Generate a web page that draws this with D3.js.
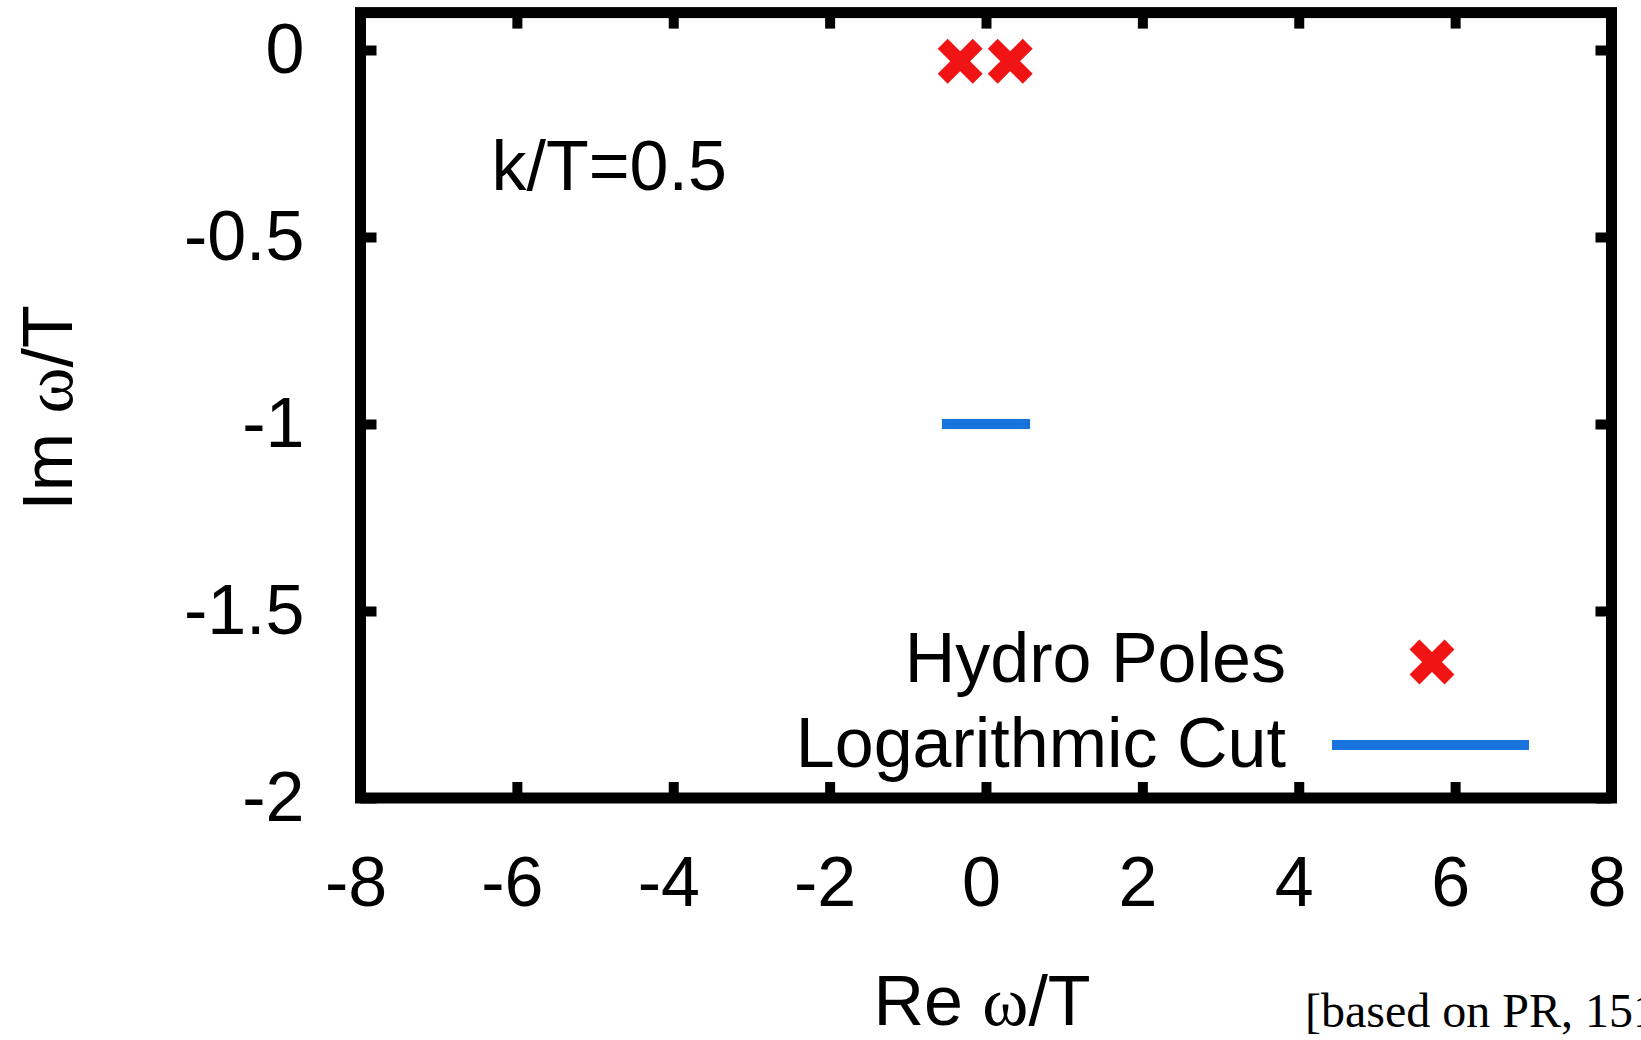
<!DOCTYPE html>
<html>
<head>
<meta charset="utf-8">
<script src="https://cdn.jsdelivr.net/npm/d3@7"></script>
<style>
  body { margin: 0; background: #fff; }
  svg { display: block; }
</style>
</head>
<body>
<svg id="chart" width="1641" height="1040"></svg>
<script>
// values
const xTicks = [-8, -6, -4, -2, 0, 2, 4, 6, 8];
const yTicks = [0, -0.5, -1, -1.5, -2];
const poleRe = [-0.33, 0.31];
const poleIm = [-0.03, -0.03];
const cutRe = [-0.5, 0.5];
const cutIm = [-1, -1];
const legendLabels = ["Hydro Poles", "Logarithmic Cut"];

const red = "#f01414";
const blue = "#1874dc";
const fontSize = 70;
const sans = "'Liberation Sans', Arial, sans-serif";
const serif = "'Liberation Serif', 'Times New Roman', serif";

const svg = d3.select("#chart")
    .attr("font-family", sans);
svg.append("rect").attr("width", 1641).attr("height", 1040).attr("fill", "#fff");

const x = d3.scaleLinear().domain([-8, 8]).range([360.5, 1611.5]);
const y = d3.scaleLinear().domain([-2, 0.1]).range([798, 12.6]);

const plotLeft = x.range()[0], plotRight = x.range()[1];
const plotTop = y(0.1), plotBottom = y(-2);

function styleAxis(g) {
    g.select(".domain").remove();
    g.selectAll(".tick line").attr("stroke", "#000").attr("stroke-width", 10);
    g.selectAll(".tick text")
        .attr("font-size", fontSize)
        .attr("font-family", sans)
        .attr("fill", "#000");
}

// bottom axis with labels
svg.append("g")
    .attr("transform", `translate(0,${plotBottom})`)
    .call(d3.axisBottom(x).tickValues(xTicks).tickSize(-16).tickPadding(58)
        .tickFormat(d => String(d)))
    .call(styleAxis)
    .selectAll(".tick text").attr("dx", -5);

// top mirror ticks
svg.append("g")
    .attr("transform", `translate(0,${plotTop})`)
    .call(d3.axisTop(x).tickValues(xTicks).tickSize(-16).tickFormat(""))
    .call(styleAxis);

// left axis with labels
svg.append("g")
    .attr("transform", `translate(${plotLeft},0)`)
    .call(d3.axisLeft(y).tickValues(yTicks).tickSize(-16).tickPadding(56)
        .tickFormat(d => String(d)))
    .call(styleAxis);

// right mirror ticks
svg.append("g")
    .attr("transform", `translate(${plotRight},0)`)
    .call(d3.axisRight(y).tickValues(yTicks).tickSize(-16).tickFormat(""))
    .call(styleAxis);

// frame
svg.append("rect")
    .attr("x", plotLeft).attr("y", plotTop)
    .attr("width", plotRight - plotLeft).attr("height", plotBottom - plotTop)
    .attr("fill", "none").attr("stroke", "#000").attr("stroke-width", 11);

// X-shaped marker
function crossPath(cx, cy) {
    const a = 17.5;
    return `M${cx - a},${cy - a}L${cx + a},${cy + a}M${cx - a},${cy + a}L${cx + a},${cy - a}`;
}

// logarithmic cut
svg.append("line")
    .attr("x1", x(cutRe[0])).attr("y1", y(cutIm[0]))
    .attr("x2", x(cutRe[1])).attr("y2", y(cutIm[1]))
    .attr("stroke", blue).attr("stroke-width", 10).attr("stroke-linecap", "square");

// hydro poles
svg.append("g").selectAll("path")
    .data(d3.zip(poleRe, poleIm))
    .join("path")
    .attr("d", d => crossPath(x(d[0]), y(d[1])))
    .attr("fill", "none").attr("stroke", red).attr("stroke-width", 14);

// annotation
svg.append("text")
    .attr("x", x(-8) + 131).attr("y", 190)
    .attr("font-size", fontSize)
    .text("k/T=0.5");

// legend
const legend = svg.append("g");
legend.selectAll("text")
    .data(legendLabels)
    .join("text")
    .attr("x", 1286)
    .attr("y", (d, i) => 682 + i * 85)
    .attr("text-anchor", "end")
    .attr("font-size", fontSize)
    .text(d => d);
legend.append("path")
    .attr("d", crossPath(1432, 662))
    .attr("fill", "none").attr("stroke", red).attr("stroke-width", 14);
legend.append("line")
    .attr("x1", 1337).attr("x2", 1524).attr("y1", 745).attr("y2", 745)
    .attr("stroke", blue).attr("stroke-width", 10).attr("stroke-linecap", "square");

// axis titles
const xt = svg.append("text")
    .attr("x", 982).attr("y", 1025)
    .attr("text-anchor", "middle")
    .attr("font-size", fontSize);
xt.append("tspan").text("Re ");
xt.append("tspan").attr("font-family", serif).text("ω");
xt.append("tspan").text("/T");

const yt = svg.append("text")
    .attr("transform", "translate(72,408) rotate(-90)")
    .attr("text-anchor", "middle")
    .attr("font-size", fontSize);
yt.append("tspan").text("Im ");
yt.append("tspan").attr("font-family", serif).text("ω");
yt.append("tspan").text("/T");

// source note, runs off the right edge
svg.append("text")
    .attr("x", 1305).attr("y", 1027)
    .attr("font-family", serif)
    .attr("font-size", 48)
    .text("[based on PR, 151");
</script>
</body>
</html>
